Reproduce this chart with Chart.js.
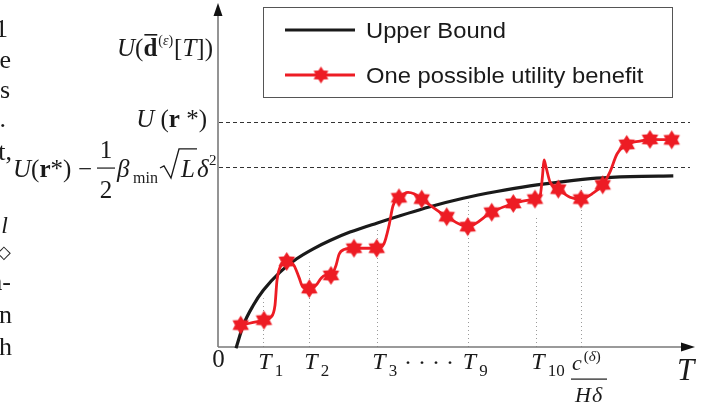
<!DOCTYPE html>
<html>
<head>
<meta charset="utf-8">
<script src="https://cdn.jsdelivr.net/npm/chart.js@4.4.1/dist/chart.umd.min.js"></script>
<style>
html, body { margin: 0; padding: 0; background: #fff; }
canvas { display: block; }
</style>
</head>
<body>
<canvas id="chart" width="716" height="408"></canvas>
<script>
// Upper bound curve
const boundX = [1.8, 2.53, 3.53, 4.53, 6.2, 7.87, 9.53, 11.2, 13.2, 15.87, 21.2, 24.53, 27.87,
    31.2, 34.53, 37.87, 41.2, 45.53];
const boundY = [-0.13, 2.2, 4.2, 5.7, 7.53, 8.87, 9.87, 10.7, 11.55, 12.45, 14.1, 14.95, 15.63,
    16.2, 16.63, 16.97, 17.13, 17.2];

// One possible utility benefit (curve knots, 1 = star marker)
const utilX = [2.27, 4.6, 5.3, 5.7, 5.9, 6.3, 6.87, 7.6, 8.1, 8.5, 9.13, 9.8, 10.3, 10.7, 11.3,
    11.8, 12.1, 12.6, 13.6, 15.87, 16.6, 17.1, 17.5, 18.1, 19.0, 19.6, 20.37, 22.87, 24.97,
    27.37, 29.53, 31.7, 32.2, 32.45, 32.6, 32.8, 33.2, 34.03, 35.2, 36.3, 37.4, 38.47, 39.2,
    39.9, 40.87, 42.2, 43.2, 45.37];
const utilY = [2.2, 2.7, 3.0, 4.2, 6.7, 8.2, 8.6, 8.2, 7.0, 6.0, 5.87, 6.2, 6.9, 7.2, 7.2,
    8.2, 9.3, 9.8, 9.93, 9.93, 10.4, 12.2, 14.2, 15.0, 15.55, 15.4, 14.87, 13.1, 12.1,
    13.55, 14.43, 14.87, 15.15, 17.2, 18.8, 18.1, 16.6, 15.87, 15.05, 14.87, 15.4, 16.3, 17.6,
    19.4, 20.37, 20.7, 20.87, 20.83];
const utilStar = [1, 1, 0, 0, 0, 0, 1, 0, 0, 0, 1, 0, 0, 0, 1,
    0, 0, 0, 1, 1, 0, 0, 0, 1, 0, 0, 1, 1, 1,
    1, 1, 1, 0, 0, 0, 0, 0, 1, 0, 1, 0, 1, 0,
    0, 1, 0, 1, 1];

// T axis marks: T1, T2, T3, T9, T10, c/(H delta)
const tickX = [4.5, 9.1, 15.9, 24.95, 31.8, 36.3];
const tickTop = [4.9, 8.5, 12.0, 14.9, 13.0, 16.4];
const tickSub = ["1", "2", "3", "9", "10"];

// dashed levels U(r*) and U(r*) - 1/2 beta sqrt(L) delta^2
const levelRstar = 22.6;
const levelLower = 18.1;

const RED = "#ed1c24";
const INK = "#1a1a1a";
const SERIF = '"Liberation Serif", "Times New Roman", serif';
const SANS = '"Liberation Sans", Arial, sans-serif';

function makeStar(r) {
    const c = document.createElement("canvas");
    const s = Math.ceil(r * 2 + 2);
    c.width = s;
    c.height = s;
    const g = c.getContext("2d");
    g.fillStyle = RED;
    g.beginPath();
    for (let i = 0; i < 12; i++) {
        const a = -Math.PI / 2 + i * Math.PI / 6;
        const rr = i % 2 === 0 ? r : r * 0.6;
        g.lineTo(s / 2 + rr * Math.cos(a), s / 2 + rr * Math.sin(a));
    }
    g.closePath();
    g.fill();
    return c;
}
const star = makeStar(9.5);
const smallStar = makeStar(8.5);

function font(size, style) {
    return (style || "") + " " + size + "px " + SERIF;
}

// draw text pieces one after another: [text, font, dy, gapBefore]
function runs(ctx, x, y, parts, align) {
    let w = 0;
    parts.forEach(p => {
        ctx.font = p[1];
        p.w = ctx.measureText(p[0]).width;
        w += p.w + (p[3] || 0);
    });
    let cx = align === "right" ? x - w : x;
    parts.forEach(p => {
        cx += p[3] || 0;
        ctx.font = p[1];
        ctx.fillText(p[0], cx, y + (p[2] || 0));
        p.x = cx;
        cx += p.w;
    });
    return parts;
}

const decorations = {
    id: "decorations",
    beforeDatasetsDraw(chart) {
        const ctx = chart.ctx;
        const xs = chart.scales.x;
        const ys = chart.scales.y;
        const left = xs.getPixelForValue(0);
        const bottom = ys.getPixelForValue(0);
        ctx.save();

        // dashed levels
        ctx.strokeStyle = "#333";
        ctx.lineWidth = 1;
        ctx.setLineDash([4, 3]);
        [levelRstar, levelLower].forEach(v => {
            const y = Math.round(ys.getPixelForValue(v)) + 0.5;
            ctx.beginPath();
            ctx.moveTo(left + 1, y);
            ctx.lineTo(xs.getPixelForValue(47.2), y);
            ctx.stroke();
        });

        // dotted verticals
        ctx.strokeStyle = "#9a9a9a";
        ctx.setLineDash([1, 3]);
        tickX.forEach((t, i) => {
            const x = Math.round(xs.getPixelForValue(t)) + 0.5;
            ctx.beginPath();
            ctx.moveTo(x, bottom);
            ctx.lineTo(x, ys.getPixelForValue(tickTop[i]));
            ctx.stroke();
        });
        ctx.setLineDash([]);

        // axes
        ctx.strokeStyle = "#7a7a7a";
        ctx.lineWidth = 1.6;
        ctx.beginPath();
        ctx.moveTo(left, bottom);
        ctx.lineTo(left, 14);
        ctx.moveTo(left, bottom);
        ctx.lineTo(684, bottom);
        ctx.stroke();
        ctx.fillStyle = "#111";
        ctx.beginPath();
        ctx.moveTo(left, 3);
        ctx.lineTo(left - 4.5, 16);
        ctx.lineTo(left + 4.5, 16);
        ctx.closePath();
        ctx.fill();
        ctx.beginPath();
        ctx.moveTo(695, bottom);
        ctx.lineTo(681, bottom - 4.5);
        ctx.lineTo(681, bottom + 4.5);
        ctx.closePath();
        ctx.fill();
        ctx.restore();
    },
    afterDraw(chart) {
        const ctx = chart.ctx;
        const xs = chart.scales.x;
        const ys = chart.scales.y;
        ctx.save();
        ctx.fillStyle = INK;
        ctx.textBaseline = "alphabetic";

        // cropped text from the page on the left
        ctx.textAlign = "right";
        ctx.font = font(26);
        [["1", 8, 37], ["e", 11, 68], ["s", 10, 98], [".", 6, 127], ["t,", 12, 160],
         ["a-", 11, 290], ["n", 12, 323], ["h", 12, 355]].forEach(p => ctx.fillText(p[0], p[1], p[2]));
        ctx.font = font(24, "italic");
        ctx.fillText("l", 8, 233);
        ctx.font = font(18);
        ctx.fillText("\u25C7", 11, 258);
        ctx.textAlign = "left";

        // origin
        ctx.textAlign = "center";
        ctx.font = font(25);
        ctx.fillText("0", 218.5, 367);
        ctx.textAlign = "left";

        // T_i labels
        tickSub.forEach((s, i) => {
            const x = xs.getPixelForValue(tickX[i]);
            ctx.font = font(24, "italic");
            const w = ctx.measureText("T").width;
            ctx.fillText("T", x + 2 - w / 2, 369);
            ctx.font = font(17);
            ctx.fillText(s, x + 2 + w / 2 + 3, 376);
        });
        ctx.font = font(24);
        ctx.fillText("\u00B7 \u00B7 \u00B7 \u00B7", 404, 370);

        // c^(delta) / (H delta)
        const cx = xs.getPixelForValue(tickX[5]);
        runs(ctx, cx - 9, 370, [["c", font(22, "italic")], ["(", font(15), -9, 2],
            ["\u03B4", font(15, "italic"), -9], [")", font(15), -9]]);
        ctx.fillRect(cx - 10, 378.5, 36, 1.2);
        runs(ctx, cx - 6, 402, [["H", font(22, "italic")], ["\u03B4", font(22, "italic"), 0, 1]]);

        // T axis title
        ctx.font = font(31, "italic");
        ctx.fillText("T", 677, 380);

        // y labels
        const p1 = runs(ctx, 213, 56, [["U", font(25, "italic")], ["(", font(25)], ["d", font(25, "bold")],
            ["(", font(14), -11, 1], ["\u03B5", font(14, "italic"), -11], [")", font(14), -11],
            ["[", font(25), 0, 1], ["T", font(25, "italic")], ["])", font(25)]], "right");
        ctx.fillRect(p1[2].x + 1, 34, p1[2].w - 1, 1.6);

        const yR = ys.getPixelForValue(levelRstar);
        runs(ctx, 207, yR + 5, [["U", font(25, "italic")], [" (", font(25)], ["r", font(25, "bold")],
            [" *", font(25)], [")", font(25)]], "right");

        const yL = ys.getPixelForValue(levelLower);
        const base = yL + 10;
        runs(ctx, 13, base, [["U", font(25, "italic")], ["(", font(25)], ["r", font(25, "bold")],
            ["*)", font(25)]]);
        ctx.textAlign = "center";
        ctx.font = font(25);
        ctx.fillText("\u2212", 85, base);
        ctx.fillText("1", 106, base - 19);
        ctx.fillText("2", 106, base + 21);
        ctx.fillRect(97, yL + 0.5, 18, 1.2);
        ctx.textAlign = "left";
        ctx.font = font(25, "italic");
        ctx.fillText("\u03B2", 117, base);
        ctx.font = font(16);
        ctx.fillText("min", 133, base + 6);
        ctx.strokeStyle = INK;
        ctx.lineWidth = 1.3;
        ctx.beginPath();
        ctx.moveTo(160, base - 9);
        ctx.lineTo(164, base - 11);
        ctx.lineTo(171, base + 1);
        ctx.lineTo(179, base - 28);
        ctx.lineTo(197, base - 28);
        ctx.stroke();
        ctx.font = font(25, "italic");
        ctx.fillText("L", 181, base);
        ctx.fillText("\u03B4", 197, base);
        ctx.font = font(15);
        ctx.fillText("2", 209, base - 12);

        // legend
        const ds = chart.data.datasets;
        ctx.fillStyle = "#fff";
        ctx.fillRect(263.5, 7.5, 409, 90);
        ctx.strokeStyle = "#555";
        ctx.lineWidth = 1;
        ctx.strokeRect(263.5, 7.5, 409, 90);
        ctx.lineWidth = 3;
        ctx.strokeStyle = ds[1].borderColor;
        ctx.beginPath();
        ctx.moveTo(285, 30);
        ctx.lineTo(355, 30);
        ctx.stroke();
        ctx.strokeStyle = ds[0].borderColor;
        ctx.beginPath();
        ctx.moveTo(285, 75);
        ctx.lineTo(355, 75);
        ctx.stroke();
        ctx.drawImage(smallStar, 321 - smallStar.width / 2, 75 - smallStar.height / 2);
        ctx.fillStyle = INK;
        ctx.font = "22px " + SANS;
        [[ds[1].label, 38], [ds[0].label, 83]].forEach(p => {
            ctx.save();
            ctx.translate(366, p[1]);
            ctx.scale(1.08, 1);
            ctx.fillText(p[0], 0, 0);
            ctx.restore();
        });
        ctx.restore();
    }
};

new Chart(document.getElementById("chart"), {
    type: "line",
    data: {
        datasets: [{
            label: "One possible utility benefit",
            data: utilX.map((x, i) => ({ x: x, y: utilY[i] })),
            borderColor: RED,
            borderWidth: 2.8,
            cubicInterpolationMode: "monotone",
            pointStyle: star,
            pointRadius: c => utilStar[c.dataIndex] ? 9 : 0,
            clip: false
        }, {
            label: "Upper Bound",
            data: boundX.map((x, i) => ({ x: x, y: boundY[i] })),
            borderColor: INK,
            borderWidth: 3.2,
            cubicInterpolationMode: "monotone",
            pointRadius: 0,
            clip: false
        }]
    },
    options: {
        responsive: false,
        animation: false,
        devicePixelRatio: 1,
        layout: { padding: { left: 218, right: 21, top: 10, bottom: 61 } },
        scales: {
            x: { type: "linear", min: 0, max: 47.7, display: false },
            y: { min: 0, max: 33.7, display: false }
        },
        plugins: {
            legend: { display: false },
            tooltip: { enabled: false }
        }
    },
    plugins: [decorations]
});
</script>
</body>
</html>
